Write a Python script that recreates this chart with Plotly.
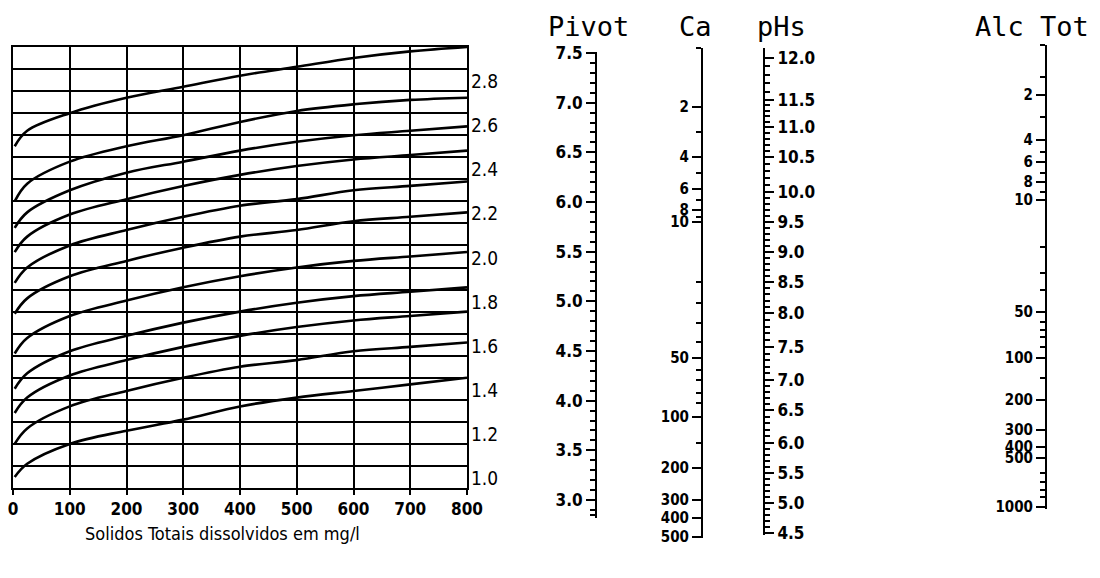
import plotly.graph_objects as go

W, H = 1100, 578

# ---------------- data: left chart (C factor vs total dissolved solids) ----------------
TDS = [3, 25, 100, 200, 300, 400, 500, 600, 700, 800]
C_CURVES = [
    [2.55, 2.62, 2.70, 2.77, 2.82, 2.87, 2.91, 2.95, 2.98, 3.00],
    [2.30, 2.38, 2.48, 2.55, 2.60, 2.66, 2.71, 2.74, 2.76, 2.77],
    [2.18, 2.25, 2.35, 2.43, 2.48, 2.53, 2.57, 2.60, 2.62, 2.64],
    [2.07, 2.14, 2.24, 2.31, 2.37, 2.42, 2.46, 2.49, 2.51, 2.53],
    [1.93, 2.00, 2.10, 2.17, 2.23, 2.28, 2.31, 2.35, 2.37, 2.39],
    [1.79, 1.86, 1.96, 2.03, 2.09, 2.14, 2.17, 2.21, 2.23, 2.25],
    [1.61, 1.68, 1.78, 1.85, 1.91, 1.96, 2.00, 2.03, 2.05, 2.07],
    [1.45, 1.52, 1.62, 1.69, 1.75, 1.80, 1.84, 1.87, 1.89, 1.91],
    [1.34, 1.41, 1.51, 1.58, 1.64, 1.69, 1.73, 1.76, 1.78, 1.80],
    [1.20, 1.27, 1.37, 1.44, 1.50, 1.55, 1.58, 1.62, 1.64, 1.66],
    [1.05, 1.11, 1.20, 1.26, 1.31, 1.37, 1.41, 1.44, 1.47, 1.50],
]
X_TICKS = [0, 100, 200, 300, 400, 500, 600, 700, 800]
Y_LABELS = [1.0, 1.2, 1.4, 1.6, 1.8, 2.0, 2.2, 2.4, 2.6, 2.8]
X_TITLE = "Solidos Totais dissolvidos em mg/l"

# ---------------- data: nomogram scales (positions in Pivot units) ----------------
PIVOT_POS = [7.5, 7.0, 6.5, 6.0, 5.5, 5.0, 4.5, 4.0, 3.5, 3.0]
PIVOT_LABELS = ["7.5", "7.0", "6.5", "6.0", "5.5", "5.0", "4.5", "4.0", "3.5", "3.0"]

CA_POS = [6.957, 6.453, 6.131, 5.920, 5.799, 4.430, 3.836, 3.322, 3.000, 2.819, 2.628]
CA_LABELS = ["2", "4", "6", "8", "10", "50", "100", "200", "300", "400", "500"]
CA_MINOR = [7.550, 6.705, 6.292, 6.020, 5.849, 5.195, 4.983, 4.782, 4.591,
            4.309, 4.208, 4.077, 3.977, 3.574]

PHS_POS = [7.450, 7.027, 6.755, 6.453, 6.101, 5.799, 5.497, 5.195, 4.883,
           4.540, 4.208, 3.906, 3.574, 3.272, 2.970, 2.668]
PHS_LABELS = ["12.0", "11.5", "11.0", "10.5", "10.0", "9.5", "9.0", "8.5", "8.0",
              "7.5", "7.0", "6.5", "6.0", "5.5", "5.0", "4.5"]

ALC_POS = [7.077, 6.624, 6.403, 6.201, 6.020, 4.893, 4.430, 4.007, 3.705, 3.534, 3.423, 2.930]
ALC_LABELS = ["2", "4", "6", "8", "10", "50", "100", "200", "300", "400", "500", "1000"]
ALC_MINOR = [7.581, 7.259, 6.856, 6.503, 6.292, 6.101, 5.547, 5.285, 5.114, 4.792,
             4.711, 4.641, 4.540, 4.228, 3.272, 3.181, 3.101, 3.030]

TITLES = ["Pivot", "Ca", "pHs", "Alc Tot"]

# page body margin of the default html page (px)
OFF = 8


# ---------------- layout helpers ----------------
def xf(px):
    return (px - OFF) / W


def yf(px):
    return 1 - (px - OFF) / H


def pv(px):  # pixel row -> Pivot units
    return 3 + (500 - px) / 99.33


fig = go.Figure()

# left chart curves
for vals in C_CURVES:
    fig.add_trace(go.Scatter(x=TDS, y=vals, mode="lines",
                             line=dict(color="black", width=2.6, shape="spline"),
                             showlegend=False, hoverinfo="skip"))

COND = "DejaVu Sans Condensed, DejaVu Sans"
tick_font = dict(family=COND, size=17, color="black", weight="bold")

layout = dict(
    template="none",
    width=W, height=H, margin=dict(l=0, r=0, t=0, b=0, autoexpand=False),
    paper_bgcolor="white", plot_bgcolor="white", showlegend=False,
    xaxis=dict(domain=[xf(13), xf(467)], range=[0, 800], tickmode="array", tickvals=X_TICKS,
               automargin=False, ticklabeloverflow="allow",
               showgrid=True, gridcolor="black", gridwidth=1.6,
               showline=True, linecolor="black", linewidth=2, mirror=True,
               ticks="outside", ticklen=5, tickcolor="black", tickwidth=1.5,
               tickfont=tick_font, zeroline=False),
    yaxis=dict(domain=[yf(488), yf(47)], range=[1.0, 3.0], dtick=0.1, tick0=1.0,
               automargin=False,
               showgrid=True, gridcolor="black", gridwidth=2.4,
               showline=True, linecolor="black", linewidth=2, mirror=True,
               showticklabels=False, ticks="", zeroline=False),
)

annotations = []
for v in Y_LABELS:
    annotations.append(dict(x=xf(469), xref="paper", y=v, yref="y", yshift=10,
                            text=f"{v:.1f}", showarrow=False, xanchor="left", yanchor="middle",
                            font=dict(family=COND, size=19, color="black")))
annotations.append(dict(x=xf(222), y=yf(533), xref="paper", yref="paper", text=X_TITLE,
                        showarrow=False, xanchor="center", yanchor="middle",
                        font=dict(family=COND, size=18, color="black")))

# nomogram scales
pivot_minor = [round(2.9 + 0.1 * i, 2) for i in range(47)] + [2.85]
phs_minor = []
for i in range(len(PHS_POS) - 1):
    p0, p1 = PHS_POS[i], PHS_POS[i + 1]
    for k in range(1, 5):
        phs_minor.append(p0 + (p1 - p0) * k / 5)

scales = [
    (597, 52, 518, "left", PIVOT_POS, PIVOT_LABELS, pivot_minor, 17),
    (703, 48, 538, "left", CA_POS, CA_LABELS, CA_MINOR, 15),
    (763, 48, 535, "right", PHS_POS, PHS_LABELS, phs_minor, 17),
    (1047, 45, 509, "left", ALC_POS, ALC_LABELS, ALC_MINOR, 15),
]
title_x = [588, 695, 781, 1032]

for i, (xpx, top, bot, side, pos, labels, minor, fs) in enumerate(scales):
    n = i + 2
    if side == "left":
        xdom = [xf(xpx), xf(xpx) + 0.005]
    else:
        xdom = [xf(xpx) - 0.005, xf(xpx)]
    layout[f"xaxis{n}"] = dict(domain=xdom, range=[0, 1], visible=False,
                               anchor=f"y{n}", fixedrange=True, automargin=False)
    layout[f"yaxis{n}"] = dict(domain=[yf(bot), yf(top)], range=[pv(bot), pv(top)],
                               anchor=f"x{n}", side=side, automargin=False,
                               tickmode="array", tickvals=pos, ticktext=labels,
                               showline=True, linecolor="black", linewidth=2,
                               ticks="outside", ticklen=9, tickwidth=2, tickcolor="black",
                               showgrid=False, zeroline=False,
                               tickfont=dict(family=COND, size=fs, color="black", weight="bold"),
                               minor=dict(tickvals=minor, ticks="outside", ticklen=5,
                                          tickwidth=1.5, tickcolor="black", showgrid=False))
    fig.add_trace(go.Scatter(x=[], y=[], xaxis=f"x{n}", yaxis=f"y{n}",
                             showlegend=False, hoverinfo="skip"))
    annotations.append(dict(x=xf(title_x[i]), y=yf(27), xref="paper", yref="paper",
                            text=TITLES[i], showarrow=False, xanchor="center", yanchor="middle",
                            font=dict(family="DejaVu Sans Mono", size=27, color="black")))

layout["annotations"] = annotations
fig.update_layout(**layout)
fig.write_html("out.html")
